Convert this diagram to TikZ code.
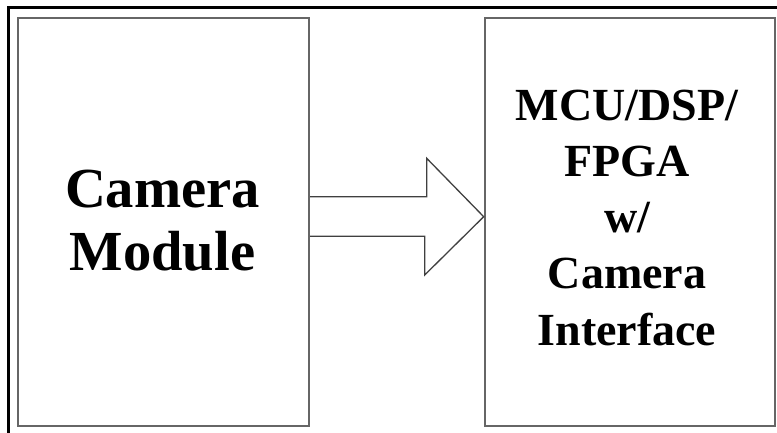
\documentclass[tikz,border=0pt]{standalone}
\usepackage{fontspec}
\setmainfont{Liberation Serif}
\begin{document}
\begin{tikzpicture}[x=1bp,y=-1bp,
  frame/.style={draw=black,line width=2.6bp},
  blockbox/.style={draw=black!60,line width=2bp,inner sep=0pt},
  bigtext/.style={align=center,inner sep=0pt,font=\bfseries\fontsize{56.6bp}{63bp}\selectfont},
  smalltext/.style={align=center,inner sep=0pt,font=\bfseries\fontsize{46bp}{56.3bp}\selectfont},
  blockarrow/.style={draw=black!75,line width=1.3bp,line join=miter}]
\useasboundingbox (0,0) rectangle (777,432);
\draw[frame] (8.3,440) -- (8.3,7.2) -- (785,7.2);
\node[blockbox,minimum width=291.5bp,minimum height=407.7bp] (cam) at (163.45,222.15) {};
\node[blockbox,minimum width=290.6bp,minimum height=407.7bp] (mcu) at (630,222.15) {};
\node[bigtext] (camtxt) at ([shift={(-1,-1.5)}]cam.center) {Camera\\Module};
\node[smalltext] (mcutxt) at ([shift={(-3,-4.5)}]mcu.center) {MCU/DSP/\\FPGA\\w/\\Camera\\Interface};
\coordinate (tip) at ([shift={(0,-5.45)}]mcu.west);
\draw[blockarrow] ([shift={(0,-25.45)}]cam.east) -- ++(116.5,0) -- ++(0,-38.4) -- (tip)
  -- ([shift={(-59,58.3)}]tip) -- ++(0,-38.7) -- ([shift={(0,14.15)}]cam.east);
\end{tikzpicture}
\end{document}
